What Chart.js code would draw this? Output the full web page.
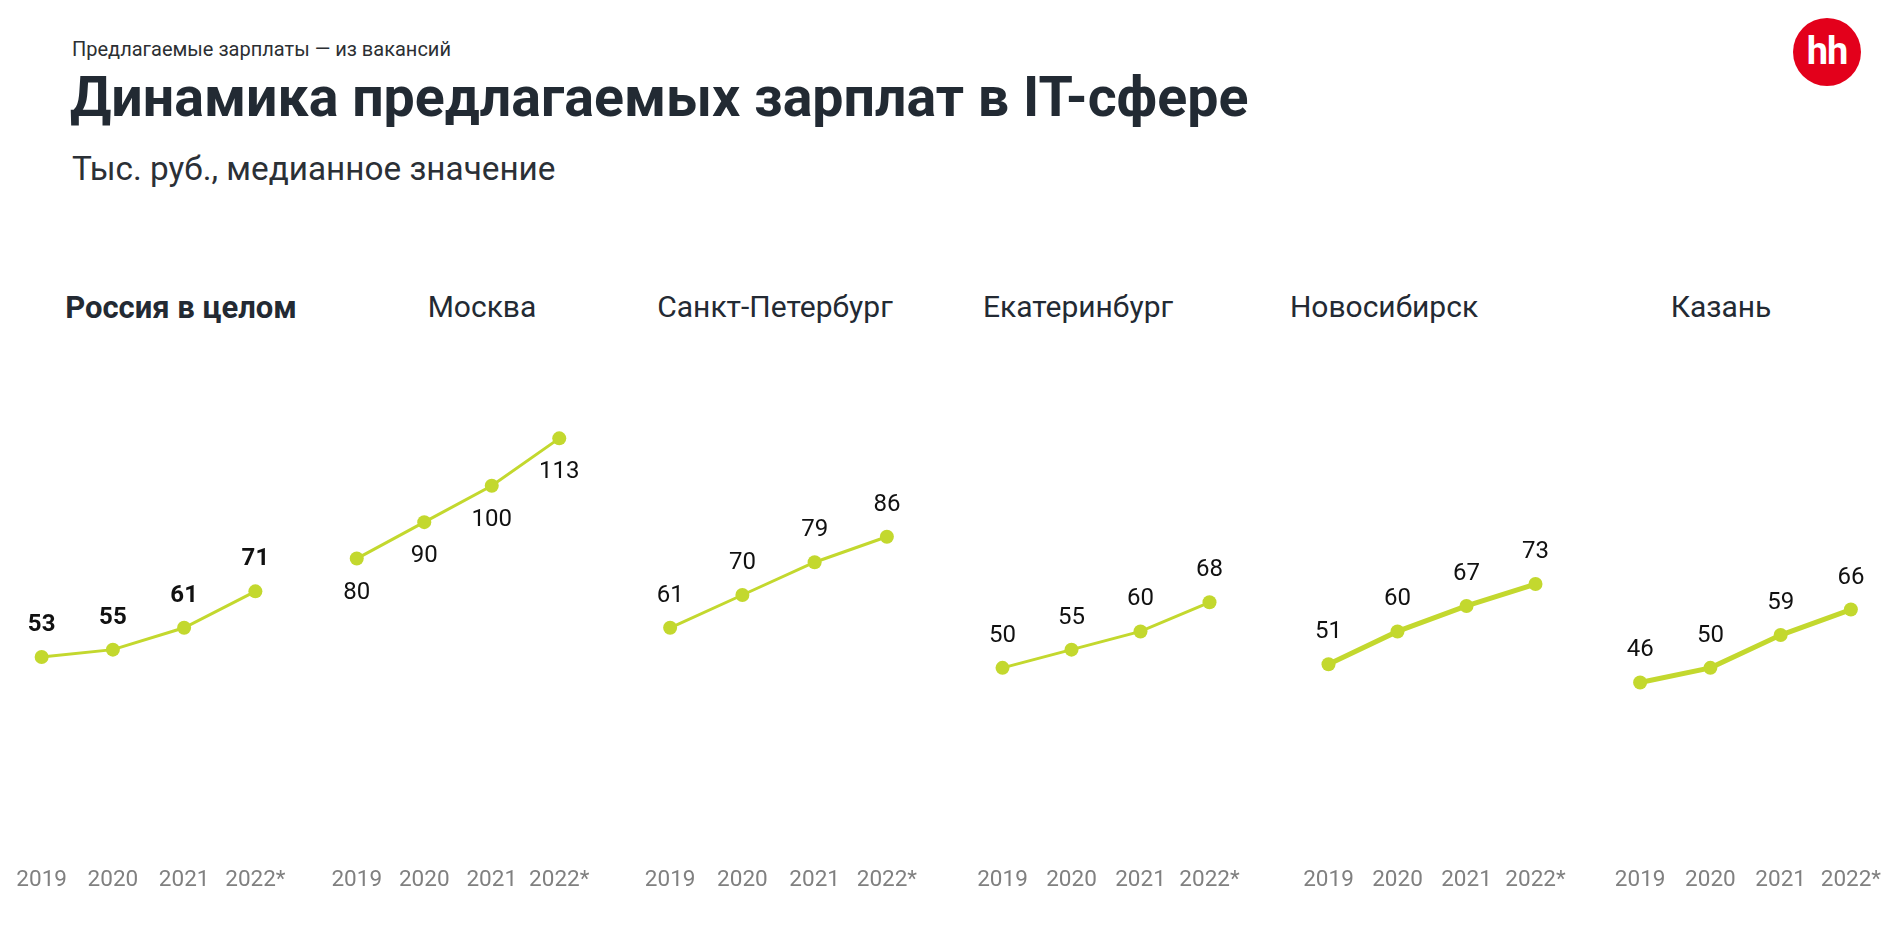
<!DOCTYPE html>
<html lang="ru">
<head>
<meta charset="utf-8">
<title>Динамика предлагаемых зарплат в IT-сфере</title>
<script src="https://cdn.jsdelivr.net/npm/chart.js@4.4.1/dist/chart.umd.min.js"></script>
<style>
    html, body { margin: 0; padding: 0; background: #fff; }
    body { width: 1885px; height: 940px; position: relative; overflow: hidden; font-family: Roboto, "Noto Sans", sans-serif; color: #232a33; }
    .txt { position: absolute; white-space: nowrap; line-height: 1; }
    .kicker { left: 72px; top: 39px; font-size: 20px; color: #2c2f33; }
    .headline { left: 70px; top: 70px; font-size: 55.5px; font-weight: 700; color: #222a33; }
    .sub { left: 72px; top: 152px; font-size: 33.3px; color: #2b3036; }
    .logo { position: absolute; left: 1793px; top: 18px; width: 68px; height: 68px; border-radius: 50%; background: #e3001b; color: #fff; font-weight: 700; font-size: 38px; text-align: center; line-height: 66px; letter-spacing: -1px; }
    .ptitle { position: absolute; top: 292px; font-size: 30px; line-height: 1; transform: translateX(-50%); white-space: nowrap; color: #232a33; }
    .ptitle.bold { font-weight: 700; font-size: 31px; }
    canvas { position: absolute; }
</style>
</head>
<body>
<div class="txt kicker">Предлагаемые зарплаты — из вакансий</div>
<div class="txt headline">Динамика предлагаемых зарплат в IT-сфере</div>
<div class="txt sub">Тыс. руб., медианное значение</div>
<div class="logo">hh</div>

<script>
// DATA
const years = ['2019', '2020', '2021', '2022*'];
const regions = ['Россия в целом', 'Москва', 'Санкт-Петербург', 'Екатеринбург', 'Новосибирск', 'Казань'];
const russia = [53, 55, 61, 71];
const moscow = [80, 90, 100, 113];
const spb = [61, 70, 79, 86];
const ekb = [50, 55, 60, 68];
const nsk = [51, 60, 67, 73];
const kazan = [46, 50, 59, 66];
const yMax = 140;

const series = [russia, moscow, spb, ekb, nsk, kazan];

// panel layout (px)
const panels = [
    { left: 6,    width: 285, title: 181,  line: 3, bold: true,  below: false },
    { left: 323,  width: 270, title: 482,  line: 3, bold: false, below: true  },
    { left: 634,  width: 289, title: 775,  line: 3, bold: false, below: false },
    { left: 968,  width: 276, title: 1078, line: 3, bold: false, below: false },
    { left: 1294, width: 276, title: 1384, line: 5, bold: false, below: false },
    { left: 1605, width: 281, title: 1721, line: 5, bold: false, below: false },
];

const lime = '#c3d82e';
const canvasTop = 340;
const canvasH = 572;   // chart area 340..850, axis 62px

// value labels next to points
const pointLabels = {
    id: 'pointLabels',
    afterDatasetsDraw(chart, args, opts) {
        const ctx = chart.ctx;
        ctx.save();
        ctx.fillStyle = '#111';
        ctx.font = (opts.bold ? '700 ' : '400 ') + '24px Roboto';
        ctx.textAlign = 'center';
        ctx.textBaseline = 'middle';
        chart.data.datasets.forEach((ds, di) => {
            chart.getDatasetMeta(di).data.forEach((pt, i) => {
                const dy = opts.below ? 34 : -32;
                ctx.fillText(ds.data[i], pt.x, pt.y + dy);
            });
        });
        ctx.restore();
    }
};

panels.forEach((p, idx) => {
    const t = document.createElement('div');
    t.className = 'ptitle' + (p.bold ? ' bold' : '');
    t.style.left = p.title + 'px';
    t.textContent = regions[idx];
    document.body.appendChild(t);

    const cv = document.createElement('canvas');
    cv.width = p.width;
    cv.height = canvasH;
    cv.style.left = p.left + 'px';
    cv.style.top = canvasTop + 'px';
    document.body.appendChild(cv);

    new Chart(cv.getContext('2d'), {
        type: 'line',
        data: {
            labels: years,
            datasets: [{
                label: regions[idx],
                data: series[idx],
                borderColor: lime,
                backgroundColor: lime,
                borderWidth: p.line,
                pointRadius: 7,
                pointHoverRadius: 7,
                pointBorderWidth: 0,
                tension: 0,
                clip: false
            }]
        },
        options: {
            responsive: false,
            animation: false,
            devicePixelRatio: 1,
            layout: { padding: 0, autoPadding: false },
            plugins: {
                legend: { display: false },
                tooltip: { enabled: false },
                pointLabels: { bold: p.bold, below: p.below }
            },
            scales: {
                x: {
                    offset: true,
                    grid: { display: true, color: 'transparent', drawOnChartArea: false, drawTicks: true, tickLength: 17 },
                    border: { display: false },
                    ticks: { color: '#808080', font: { family: 'Roboto', size: 22.5 }, padding: 0, maxRotation: 0, autoSkip: false },
                    afterFit: (s) => { s.height = 62; }
                },
                y: {
                    display: false,
                    min: 0,
                    max: yMax
                }
            }
        },
        plugins: [pointLabels]
    });
});
</script>
</body>
</html>
